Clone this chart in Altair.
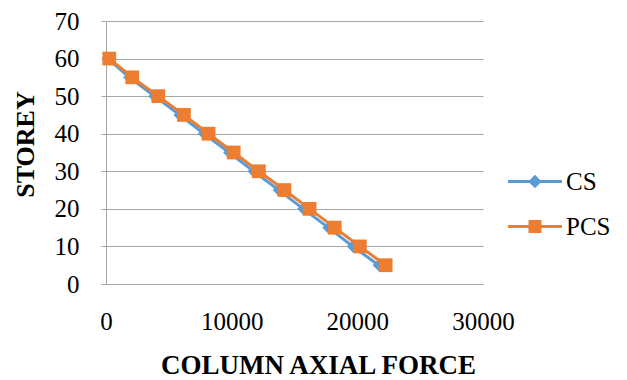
import altair as alt
import pandas as pd

storey = [60, 55, 50, 45, 40, 35, 30, 25, 20, 15, 10, 5]
cs_force = [150, 1850, 3850, 5850, 7800, 9800, 11750, 13750, 15700, 17700, 19650, 21700]
pcs_force = [260, 2090, 4160, 6200, 8160, 10160, 12160, 14200, 16200, 18200, 20200, 22250]
series_names = ["CS", "PCS"]
series_colors = ["#5B9BD5", "#ED7D31"]
x_ticks = [0, 10000, 20000, 30000]
y_ticks = [0, 10, 20, 30, 40, 50, 60, 70]

rows = []
for s, f in zip(storey, cs_force):
    rows.append({"series": "CS", "force": f, "storey": s})
for s, f in zip(storey, pcs_force):
    rows.append({"series": "PCS", "force": f, "storey": s})
df = pd.DataFrame(rows)

FONT = "Liberation Serif"
GRID = "#A6A6A6"

x_enc = alt.X(
    "force:Q",
    scale=alt.Scale(domain=[0, 30000], nice=False),
    axis=alt.Axis(
        values=x_ticks, format="d", grid=False, ticks=False, tickSize=0,
        labelFlush=False, labelOverlap=False,
        domainColor=GRID, labelFont=FONT, labelFontSize=25, labelColor="black",
        labelPadding=25, title="COLUMN AXIAL FORCE", titleFont=FONT,
        titleFontSize=27, titleFontWeight="bold", titleColor="black",
        titleX=212, titleY=89, titleBaseline="alphabetic", titleAlign="center",
    ),
)
y_enc = alt.Y(
    "storey:Q",
    scale=alt.Scale(domain=[0, 70], nice=False),
    axis=alt.Axis(
        values=y_ticks, grid=True, gridColor=GRID, domainColor=GRID,
        tickColor=GRID, tickSize=5, labelFont=FONT, labelFontSize=25,
        labelColor="black", labelPadding=22, labelFlush=False, labelOverlap=False,
        title="STOREY", titleFont=FONT,
        titleFontSize=26, titleFontWeight="bold", titleColor="black",
        titleAngle=-90, titleX=-72.5, titleY=123, titleBaseline="alphabetic",
        titleAlign="center",
    ),
)

base = alt.Chart(df).encode(x=x_enc, y=y_enc, order="storey:Q")

cs_line = base.transform_filter("datum.series == 'CS'").mark_line(
    color=series_colors[0], strokeWidth=3)
cs_pts = base.transform_filter("datum.series == 'CS'").mark_point(
    shape="diamond", filled=True, size=150, color=series_colors[0], opacity=1)
pcs_line = base.transform_filter("datum.series == 'PCS'").mark_line(
    color=series_colors[1], strokeWidth=3)
pcs_pts = base.transform_filter("datum.series == 'PCS'").mark_point(
    shape="square", filled=True, size=190, color=series_colors[1], opacity=1)

legend_paths = [
    "M-2,-0.12H2V0.12H-2Z M0,-0.5L0.5,0L0,0.5L-0.5,0Z",
    "M-2,-0.12H2V0.12H-2Z M-0.48,-0.48H0.48V0.48H-0.48Z",
]
leg = alt.Legend(
    title=None, orient="none", legendX=415.5, legendY=147, padding=0,
    symbolSize=729, symbolStrokeWidth=0, symbolOpacity=1,
    labelFont=FONT, labelFontSize=25, labelColor="black", labelOffset=17.5,
    rowPadding=18,
)
legend_layer = alt.Chart(df).transform_filter("false").mark_point(
    filled=True, opacity=1).encode(
    color=alt.Color("series:N", scale=alt.Scale(domain=series_names, range=series_colors), legend=leg),
    shape=alt.Shape("series:N", scale=alt.Scale(domain=series_names, range=legend_paths), legend=leg),
)

chart = alt.layer(cs_line, cs_pts, pcs_line, pcs_pts, legend_layer).properties(
    width=377, height=263,
    padding={"left": 106, "top": 21, "right": 144, "bottom": 96},
    autosize=alt.AutoSizeParams(type="none"),
    background="white",
).configure_view(stroke=None)

chart.save("out.html", embed_options={"renderer": "svg", "actions": False})
